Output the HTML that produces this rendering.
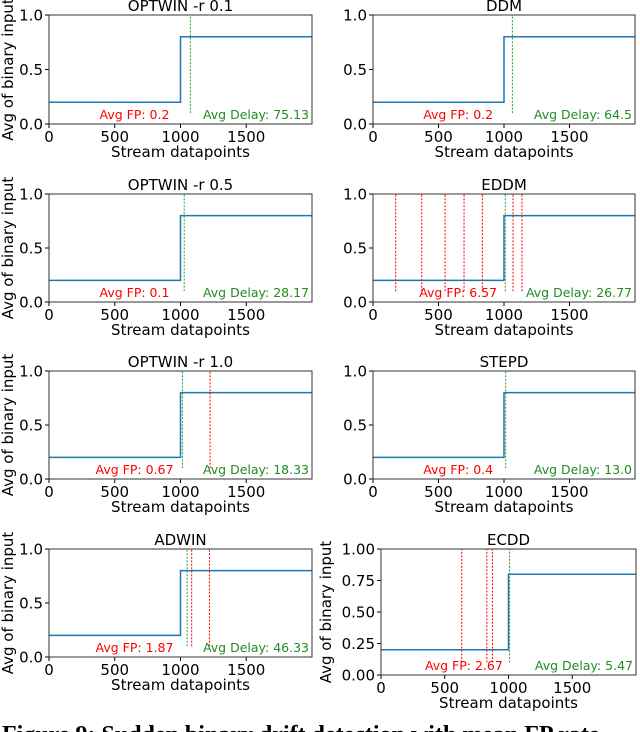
<!DOCTYPE html>
<html><head><meta charset="utf-8"><style>
html,body{margin:0;padding:0;background:#fff;width:640px;height:732px;overflow:hidden}
svg text{font-family:"DejaVu Sans","Liberation Sans",sans-serif}
</style></head><body>
<svg id="fig" width="640" height="732" viewBox="0 0 640 732" xmlns="http://www.w3.org/2000/svg">
<text x="2" y="742" style="font-family:'Liberation Serif',serif;font-weight:bold;font-size:24px">Figure 9: Sudden binary drift detection with mean FP rate</text>
</svg>
<script>
const titles = ["OPTWIN -r 0.1","DDM","OPTWIN -r 0.5","EDDM","OPTWIN -r 1.0","STEPD","ADWIN","ECDD"];
const driftPoint = 1000;
const levelBefore = 0.2;
const levelAfter = 0.8;
const greenDetections = [1075, 1064, 1028, 1010, 1015, 1013, 1050, 1008];
const redDetections = [[], [], [], [173,372,550,695,835,1069,1137], [1225], [], [1085,1220], [633,830,874]];
const fpLabels = ["Avg FP: 0.2","Avg FP: 0.2","Avg FP: 0.1","Avg FP: 6.57","Avg FP: 0.67","Avg FP: 0.4","Avg FP: 1.87","Avg FP: 2.67"];
const delayLabels = ["Avg Delay: 75.13","Avg Delay: 64.5","Avg Delay: 28.17","Avg Delay: 26.77","Avg Delay: 18.33","Avg Delay: 13.0","Avg Delay: 46.33","Avg Delay: 5.47"];
const xTicks = [0,500,1000,1500];
const yTicksA = [0,0.5,1.0];
const yTickLabelsA = ["0.0","0.5","1.0"];
const yTicksB = [0,0.25,0.5,0.75,1.0];
const yTickLabelsB = ["0.00","0.25","0.50","0.75","1.00"];

const NS="http://www.w3.org/2000/svg";
const svg=document.getElementById('fig');
function mk(tag,attrs,parent){const e=document.createElementNS(NS,tag);for(const k in attrs)e.setAttribute(k,attrs[k]);(parent||svg).appendChild(e);return e;}
const boxes=[
 {l:49,r:312,t:15,b:124},{l:373,r:635,t:15,b:124},
 {l:49,r:312,t:194,b:302},{l:373,r:635,t:194,b:302},
 {l:49,r:312,t:371,b:479},{l:373,r:635,t:371,b:479},
 {l:49,r:312,t:549,b:657},{l:381,r:636,t:549,b:675}];
titles.forEach((title,i)=>{
  const B=boxes[i];
  const xs=v=>B.l+(v/2000)*(B.r-B.l);
  const ys=v=>B.b-v*(B.b-B.t);
  const g=mk('g',{});
  
  
  const t=mk('text',{x:(B.l+B.r)/2,y:B.t-4,'text-anchor':'middle','font-size':'15'},g);t.textContent=title;
  
  
  const isB=i===7;
  const yt=isB?yTicksB:yTicksA, yl=isB?yTickLabelsB:yTickLabelsA;
  yt.forEach((v,k)=>{
    mk('line',{x1:B.l-4,x2:B.l,y1:ys(v),y2:ys(v),stroke:'#000','stroke-width':1},g);
    const tx=mk('text',{x:B.l-6,y:ys(v)+5.5,'text-anchor':'end','font-size':'15'},g);tx.textContent=yl[k];
    
    
  });
  xTicks.forEach(v=>{
    mk('line',{x1:xs(v),x2:xs(v),y1:B.b,y2:B.b+4,stroke:'#000','stroke-width':1},g);
    const tx=mk('text',{x:xs(v),y:B.b+18,'text-anchor':'middle','font-size':'15'},g);tx.textContent=v;
    
    
  });
  const xl=mk('text',{x:(B.l+B.r)/2,y:B.b+33,'text-anchor':'middle','font-size':'15'},g);xl.textContent='Stream datapoints';
  
  
  if(i%2===0||i===7){
    const cy=(B.t+B.b)/2;const cx=isB?B.l-50:B.l-36;
    const yl2=mk('text',{x:cx,y:cy,'text-anchor':'middle','font-size':'15',transform:`rotate(-90 ${cx} ${cy})`},g);yl2.textContent='Avg of binary input';
    
    
  }
  const ln=mk('polyline',{points:`${xs(0)},${ys(levelBefore)} ${xs(driftPoint)},${ys(levelBefore)} ${xs(driftPoint)},${ys(levelAfter)} ${xs(2000)},${ys(levelAfter)}`,fill:'none',stroke:'#1f77b4','stroke-width':1.5},g);
  
  
  redDetections[i].forEach(v=>{
    const d=mk('line',{x1:xs(v),x2:xs(v),y1:ys(0.1),y2:ys(1),stroke:'#ff0000','stroke-width':1,'stroke-dasharray':'2,1.5'},g);
    
    
  });
  const gd=mk('line',{x1:xs(greenDetections[i]),x2:xs(greenDetections[i]),y1:ys(0.1),y2:ys(1),stroke:'#2ca02c','stroke-width':1,'stroke-dasharray':'2,1.5'},g);
  
  
  const fp=mk('text',{x:xs(650),y:B.b-5,'text-anchor':'middle','font-size':'12.5',fill:'#ff0000'},g);fp.textContent=fpLabels[i];
  
  
  const dl=mk('text',{x:B.r-3,y:B.b-5,'text-anchor':'end','font-size':'12.5',fill:'#228b22'},g);dl.textContent=delayLabels[i];
  
  
  const fr=mk('rect',{x:B.l,y:B.t,width:B.r-B.l,height:B.b-B.t,fill:'none',stroke:'#333','stroke-width':1},g);
  
  
});
</script>
</body></html>
